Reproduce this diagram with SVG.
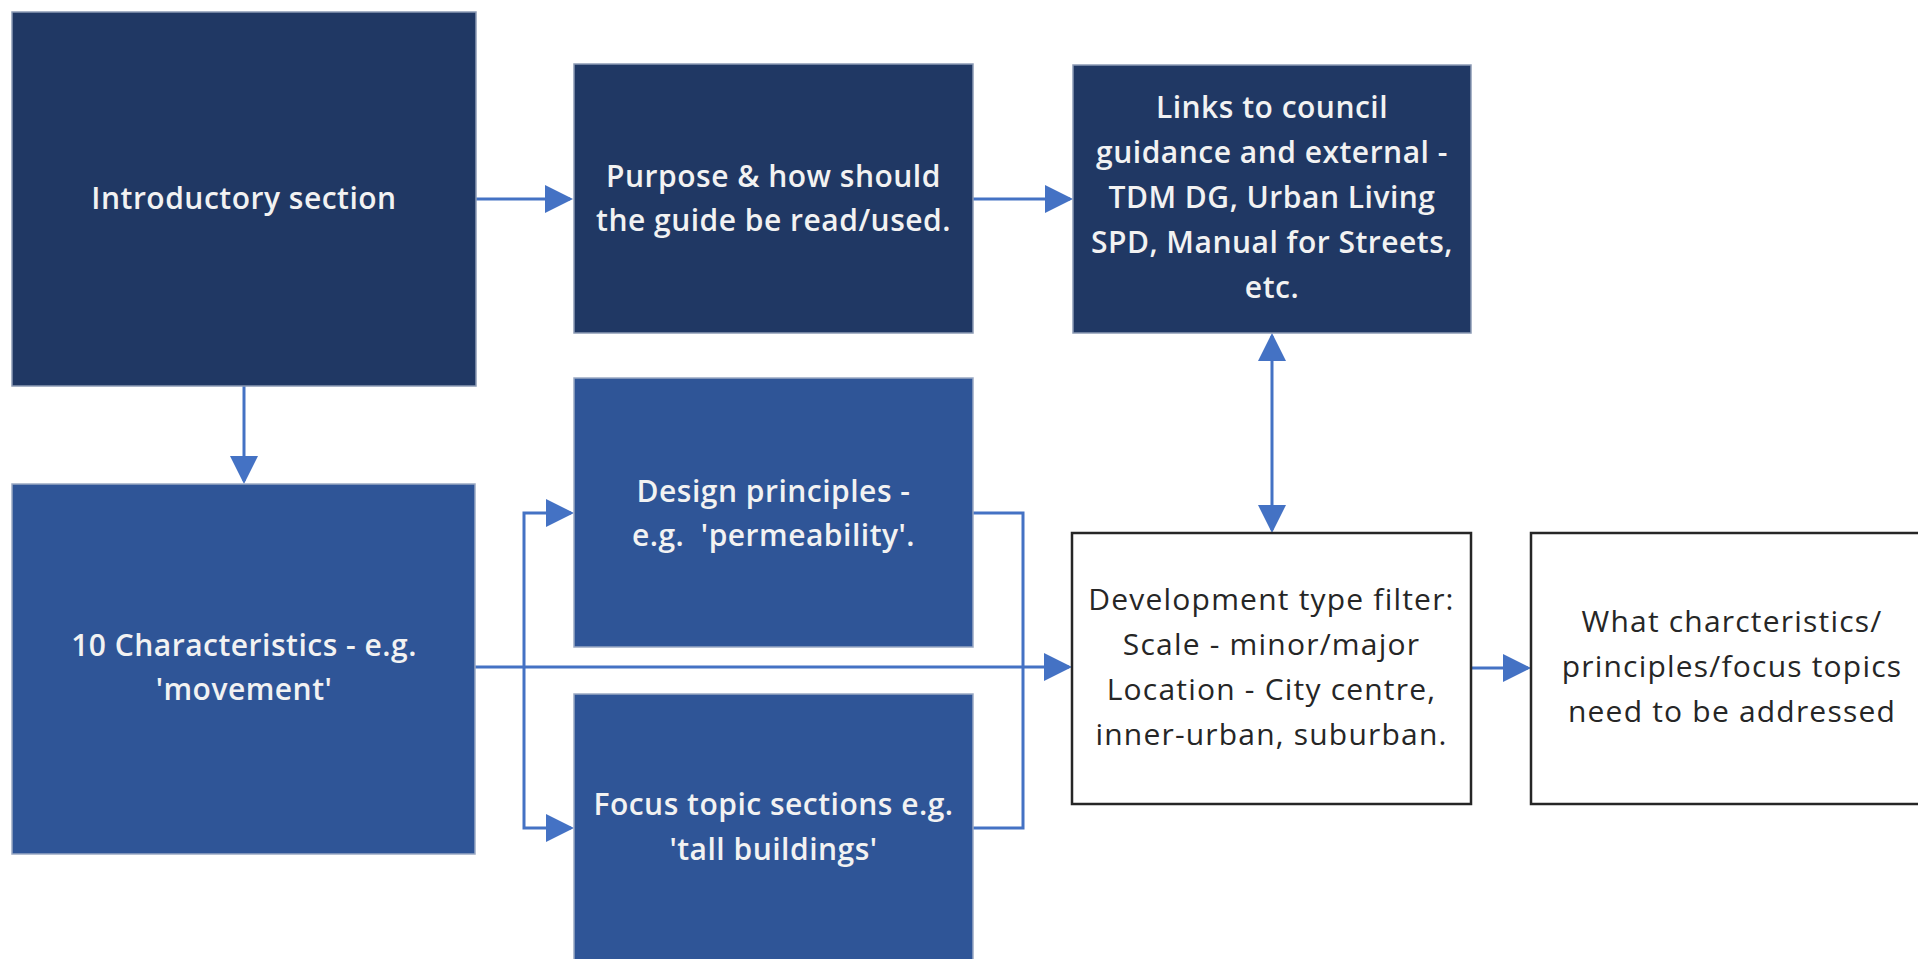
<svg xmlns="http://www.w3.org/2000/svg" width="1918" height="959" viewBox="0 0 1918 959">
<style>
.bg{fill:#ffffff}
.dark{fill:#203864;stroke:#8C9BB5;stroke-width:1.5}
.mid{fill:#2F5597;stroke:#9AA9C4;stroke-width:1.5}
.white{fill:#ffffff;stroke:#262626;stroke-width:2.5}
.tl{font-family:"Open Sans","Noto Sans","Liberation Sans",sans-serif;font-size:30px;font-weight:600;fill:#F2F2F2;text-anchor:middle;letter-spacing:0.5px}
.td{font-family:"Open Sans","Noto Sans","Liberation Sans",sans-serif;font-size:30px;font-weight:400;fill:#262626;text-anchor:middle;letter-spacing:1.2px}
.conn{fill:none;stroke:#4472C4;stroke-width:3}
</style>
<defs>
<marker id="arr" markerUnits="userSpaceOnUse" markerWidth="28" markerHeight="28" refX="25" refY="14" orient="auto-start-reverse">
<path d="M0,0 L28,14 L0,28 Z" fill="#4472C4"/>
</marker>
</defs>
<rect class="bg" x="0" y="0" width="1918" height="959"/>

<g id="connectors">
<path class="conn" d="M476,199 H570" marker-end="url(#arr)"/>
<path class="conn" d="M973,199 H1070" marker-end="url(#arr)"/>
<path class="conn" d="M244,386 V481" marker-end="url(#arr)"/>
<path class="conn" d="M1272,336 V530" marker-start="url(#arr)" marker-end="url(#arr)"/>
<path class="conn" d="M475,667 H1069" marker-end="url(#arr)"/>
<path class="conn" d="M524,667 V513 H571" marker-end="url(#arr)"/>
<path class="conn" d="M524,667 V828 H571" marker-end="url(#arr)"/>
<path class="conn" d="M973,513 H1023 V667"/>
<path class="conn" d="M973,828 H1023 V667"/>
<path class="conn" d="M1471,668 H1528" marker-end="url(#arr)"/>
</g>

<g id="intro">
<rect class="dark" x="12" y="12" width="464" height="374"/>
<text class="tl" x="244" y="209">Introductory section</text>
</g>

<g id="purpose">
<rect class="dark" x="574" y="64" width="399" height="269"/>
<text class="tl" x="773.5" y="187">Purpose &amp; how should</text>
<text class="tl" x="773.5" y="231">the guide be read/used.</text>
</g>

<g id="links">
<rect class="dark" x="1073" y="65" width="398" height="268"/>
<text class="tl" x="1272" y="118">Links to council</text>
<text class="tl" x="1272" y="163">guidance and external -</text>
<text class="tl" x="1272" y="208">TDM DG, Urban Living</text>
<text class="tl" x="1272" y="253">SPD, Manual for Streets,</text>
<text class="tl" x="1272" y="298">etc.</text>
</g>

<g id="characteristics">
<rect class="mid" x="12" y="484" width="463" height="370"/>
<text class="tl" x="244" y="656">10 Characteristics - e.g.</text>
<text class="tl" x="244" y="700">'movement'</text>
</g>

<g id="design">
<rect class="mid" x="574" y="378" width="399" height="269"/>
<text class="tl" x="773.5" y="502">Design principles -</text>
<text class="tl" x="773.5" y="546" xml:space="preserve">e.g.  'permeability'.</text>
</g>

<g id="focus">
<rect class="mid" x="574" y="694" width="399" height="270"/>
<text class="tl" x="773.5" y="815">Focus topic sections e.g.</text>
<text class="tl" x="773.5" y="860">'tall buildings'</text>
</g>

<g id="devfilter">
<rect class="white" x="1072" y="533" width="399" height="271"/>
<text class="td" x="1271.5" y="610">Development type filter:</text>
<text class="td" x="1271.5" y="655">Scale - minor/major</text>
<text class="td" x="1271.5" y="700">Location - City centre,</text>
<text class="td" x="1271.5" y="745">inner-urban, suburban.</text>
</g>

<g id="what">
<rect class="white" x="1531" y="533" width="401" height="271"/>
<text class="td" x="1732" y="632">What charcteristics/</text>
<text class="td" x="1732" y="677">principles/focus topics</text>
<text class="td" x="1732" y="722">need to be addressed</text>
</g>
</svg>
